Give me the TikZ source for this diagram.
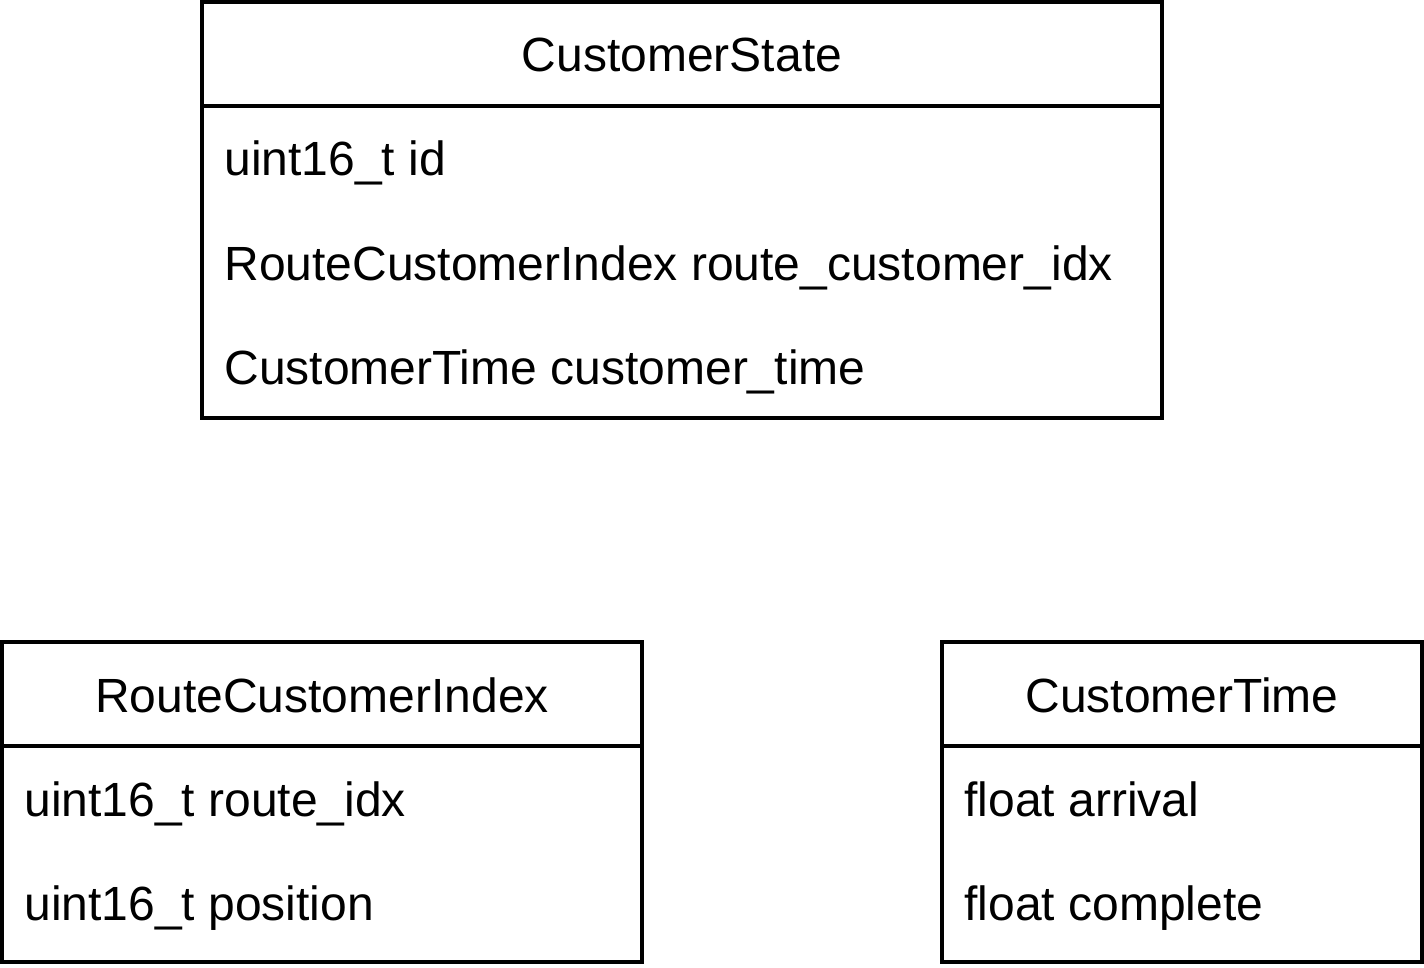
\documentclass[tikz,border=0pt]{standalone}
\usepackage{fontspec}
\setmainfont{Liberation Sans}
\usetikzlibrary{positioning}

\tikzset{
  classtitle/.style={draw, line width=2pt, anchor=north west, inner sep=0pt,
    outer sep=0pt, minimum height=52pt},
  classbody/.style={draw, line width=2pt, anchor=north west, inner sep=0pt,
    outer sep=0pt},
  field/.style={anchor=base west, inner sep=0pt}
}

\begin{document}
\begin{tikzpicture}[x=0.5pt, y=-0.5pt, font=\fontsize{24}{28}\selectfont]
\useasboundingbox (0,0) rectangle (1424,968);

% CustomerState
\node[classbody, minimum width=480pt, minimum height=156pt] (stateBody) at (202,106) {};
\node[classtitle, minimum width=480pt] (stateTitle) at (202,2) {};
\node[anchor=base, inner sep=0pt] (stateName) at (682,72) {CustomerState};
\node[field] (stateId) at (224,176) {uint16\_t id};
\node[field] (stateIdx) at (224,280) {RouteCustomerIndex route\_customer\_idx};
\node[field] (stateTime) at (224,384) {CustomerTime customer\_time};

% RouteCustomerIndex
\node[classbody, minimum width=320pt, minimum height=108pt] (indexBody) at (2,746) {};
\node[classtitle, minimum width=320pt] (indexTitle) at (2,642) {};
\node[anchor=base, inner sep=0pt] (indexName) at (322,712) {RouteCustomerIndex};
\node[field] (indexRoute) at (24,816) {uint16\_t route\_idx};
\node[field] (indexPos) at (24,920) {uint16\_t position};

% CustomerTime
\node[classbody, minimum width=240pt, minimum height=108pt] (timeBody) at (942,746) {};
\node[classtitle, minimum width=240pt] (timeTitle) at (942,642) {};
\node[anchor=base, inner sep=0pt] (timeName) at (1182,712) {CustomerTime};
\node[field] (timeArrival) at (964,816) {float arrival};
\node[field] (timeComplete) at (964,920) {float complete};

\end{tikzpicture}
\end{document}
